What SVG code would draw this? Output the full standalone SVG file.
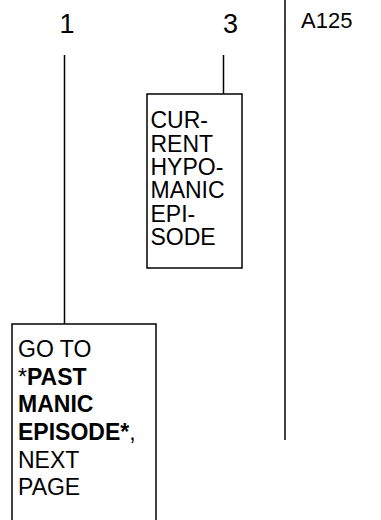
<svg xmlns="http://www.w3.org/2000/svg" width="381" height="520" viewBox="0 0 381 520">
<style>
text{font-family:"Liberation Sans",Arial,sans-serif;fill:#000}
.t{font-size:23px}
.h{font-size:27px}
.b{font-weight:bold}
.ln{stroke:#000;stroke-width:1.5;fill:none}
.box{fill:#fff;stroke:#000;stroke-width:1.5}
</style>
<rect width="381" height="520" fill="#fff"/>
<g id="connectors">
<line class="ln" x1="285" y1="0" x2="285" y2="440"/>
<line class="ln" x1="64.5" y1="55" x2="64.5" y2="324"/>
<line class="ln" x1="223.5" y1="55" x2="223.5" y2="94"/>
</g>
<g id="col1"><text class="h" x="67" y="33" text-anchor="middle">1</text></g>
<g id="col3"><text class="h" x="230.5" y="33" text-anchor="middle">3</text></g>
<g id="label-a125"><text class="t" x="301" y="28" style="font-size:22px">A125</text></g>
<g id="current">
<rect class="box" x="147" y="94" width="95" height="174"/>
<text class="t" x="150.5"><tspan x="150.5" y="128">CUR-</tspan><tspan x="150.5" y="151.5">RENT</tspan><tspan x="150.5" y="175">HYPO-</tspan><tspan x="150.5" y="198">MANIC</tspan><tspan x="150.5" y="221.5">EPI-</tspan><tspan x="150.5" y="245">SODE</tspan></text>
</g>
<g id="goto">
<rect class="box" x="12" y="324" width="144" height="210"/>
<text class="t" x="18"><tspan x="18" y="357">GO TO</tspan><tspan x="18" y="385">*<tspan class="b">PAST</tspan></tspan><tspan x="18" y="412" class="b">MANIC</tspan><tspan x="18" y="440"><tspan class="b">EPISODE*</tspan>,</tspan><tspan x="18" y="468">NEXT</tspan><tspan x="18" y="495">PAGE</tspan></text>
</g>
</svg>
